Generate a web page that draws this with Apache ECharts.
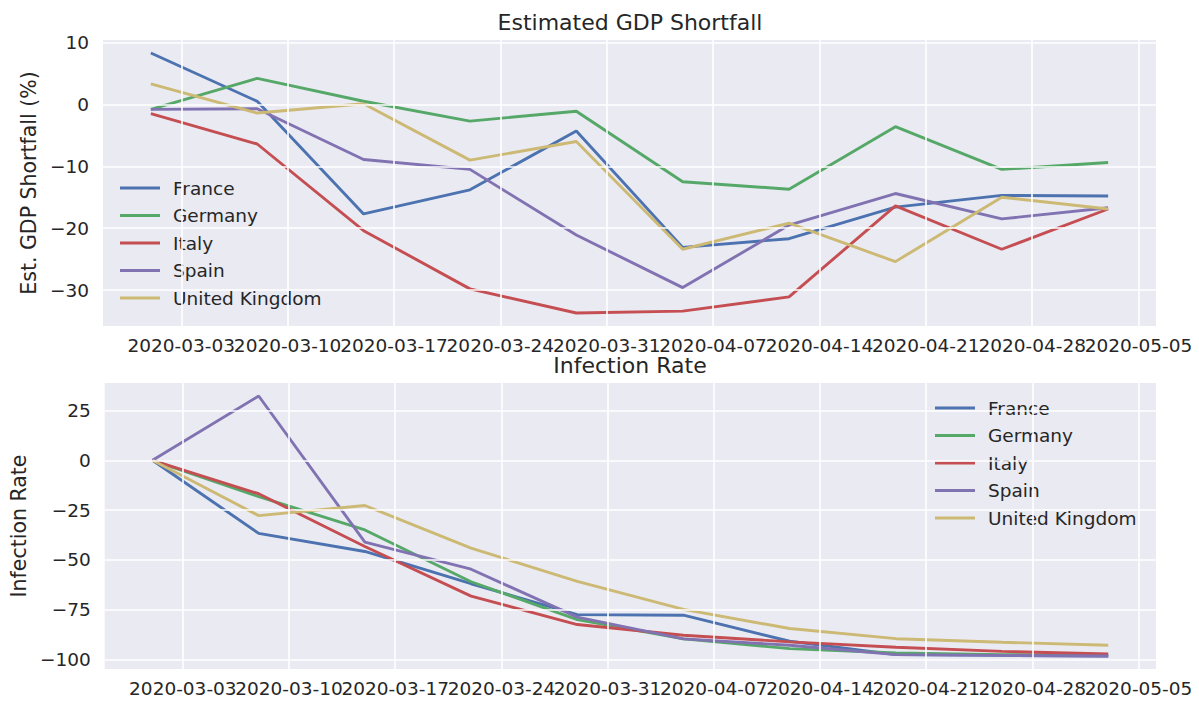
<!DOCTYPE html>
<html><head><meta charset="utf-8">
<script src="https://cdn.jsdelivr.net/npm/echarts@6/dist/echarts.min.js"></script>
<style>html,body{margin:0;padding:0;background:#fff}#c{width:1199px;height:702px}</style>
</head><body><div id="c"></div>
<script>
// ---- data ----
const dates = ['2020-03-01','2020-03-08','2020-03-15','2020-03-22','2020-03-29','2020-04-05','2020-04-12','2020-04-19','2020-04-26','2020-05-03'];
const countries = ['France','Germany','Italy','Spain','United Kingdom'];

const gdpFrance  = [8.3, 0.5, -17.7, -13.8, -4.3, -23.1, -21.7, -16.6, -14.7, -14.8];
const gdpGermany = [-0.8, 4.2, 0.5, -2.7, -1.1, -12.5, -13.7, -3.6, -10.5, -9.4];
const gdpItaly   = [-1.5, -6.4, -20.4, -29.8, -33.7, -33.4, -31.1, -16.4, -23.4, -16.9];
const gdpSpain   = [-0.8, -0.7, -8.9, -10.5, -21.1, -29.6, -19.5, -14.4, -18.5, -16.7];
const gdpUK      = [3.3, -1.4, 0.1, -9.0, -6.0, -23.4, -19.2, -25.4, -15.0, -16.9];

const infFrance  = [0, -36.7, -45.8, -62.0, -77.5, -77.8, -90.9, -97.6, -98.0, -98.3];
const infGermany = [0, -18.2, -35.0, -61.0, -80.0, -89.7, -94.6, -96.8, -97.6, -98.0];
const infItaly   = [0, -16.8, -43.3, -68.2, -82.5, -87.9, -91.2, -93.9, -96.0, -97.3];
const infSpain   = [0, 32.3, -41.1, -54.7, -78.8, -89.7, -92.9, -97.6, -98.0, -98.3];
const infUK      = [0, -27.8, -22.7, -44.1, -60.8, -74.9, -84.5, -89.6, -91.4, -92.9];

const xTickLabels = ['2020-03-03','2020-03-10','2020-03-17','2020-03-24','2020-03-31','2020-04-07','2020-04-14','2020-04-21','2020-04-28','2020-05-05'];
const gdpYTicks = [-30, -20, -10, 0, 10];
const infYTicks = [-100, -75, -50, -25, 0, 25];

// ---- build ----
const colors = ['#4C72B0','#55A868','#C44E52','#8172B2','#CCB974'];
const TXT = '#262626';
const FONT = 'DejaVu Sans';
const ts = s => { const [y,m,d] = s.split('-').map(Number); return Date.UTC(y, m-1, d); };
const fmt = v => { const d = new Date(v); const p = n => String(n).padStart(2,'0');
  return d.getUTCFullYear() + '-' + p(d.getUTCMonth()+1) + '-' + p(d.getUTCDate()); };
const minus = v => String(v).replace('-', '\u2212');
const xs = dates.map(ts);
const xTicks = xTickLabels.map(ts);
const xTicksA = xTicks.filter((_, i) => i % 2 === 0);
const xTicksB = xTicks.filter((_, i) => i % 2 === 1);
const xPad = (xs[xs.length-1] - xs[0]) * 0.05;
const xMin = xs[0] - xPad, xMax = xs[xs.length-1] + xPad;
function yRange(arrs){ const all = [].concat(...arrs); const lo = Math.min(...all), hi = Math.max(...all); const p = (hi-lo)*0.05; return [lo-p, hi+p]; }
const gdpSets = [gdpFrance, gdpGermany, gdpItaly, gdpSpain, gdpUK];
const infSets = [infFrance, infGermany, infItaly, infSpain, infUK];
const gR = yRange(gdpSets), iR = yRange(infSets);

const grids = [
  {left: 103, right: 43, top: 40, height: 286, show: true, backgroundColor: '#EAEAF2', borderWidth: 0},
  {left: 103, right: 43, top: 383, height: 286, show: true, backgroundColor: '#EAEAF2', borderWidth: 0}
];
// two overlaid x axes per grid (alternate labels) so the crowded date labels all stay visible
const mkX = (g, vals) => ({
  type: 'value', gridIndex: g, min: xMin, max: xMax, position: 'bottom', offset: 0,
  axisLine: {show: false}, axisTick: {show: false, customValues: vals}, splitLine: {show: false},
  axisLabel: {customValues: vals, formatter: fmt, color: TXT, fontFamily: FONT, fontSize: 18.5, margin: 10,
    hideOverlap: false, showMinLabel: true, showMaxLabel: true}
});
const xAxis = [mkX(0, xTicksA), mkX(1, xTicksA), mkX(0, xTicksB), mkX(1, xTicksB)];
const yAxis = [
  {type: 'value', gridIndex: 0, min: gR[0], max: gR[1], name: 'Est. GDP Shortfall (%)', nameLocation: 'middle', nameGap: 61,
   nameTextStyle: {color: TXT, fontFamily: FONT, fontSize: 20.5},
   axisLine: {show: false}, axisTick: {show: false, customValues: gdpYTicks}, splitLine: {show: false},
   axisLabel: {customValues: gdpYTicks, formatter: minus, color: TXT, fontFamily: FONT, fontSize: 18.5, margin: 14,
     showMinLabel: true, showMaxLabel: true}},
  {type: 'value', gridIndex: 1, min: iR[0], max: iR[1], name: 'Infection Rate', nameLocation: 'middle', nameGap: 74,
   nameTextStyle: {color: TXT, fontFamily: FONT, fontSize: 20.5},
   axisLine: {show: false}, axisTick: {show: false, customValues: infYTicks}, splitLine: {show: false},
   axisLabel: {customValues: infYTicks, formatter: minus, color: TXT, fontFamily: FONT, fontSize: 18.5, margin: 14,
     showMinLabel: true, showMaxLabel: true}}
];
const series = [];
[0,1].forEach(g => {
  const yt = g === 0 ? gdpYTicks : infYTicks;
  series.push({type: 'line', xAxisIndex: g, yAxisIndex: g, data: [], z: 1, silent: true,
    markLine: {silent: true, symbol: ['none','none'], animation: false, label: {show: false},
      emphasis: {disabled: true},
      lineStyle: {color: '#ffffff', width: 1.6, type: 'solid'},
      data: yt.map(v => ({yAxis: v})).concat(xTicks.map(t => ({xAxis: t})))}});
});
countries.forEach((c, k) => {
  series.push({name: c, type: 'line', xAxisIndex: 0, yAxisIndex: 0, z: 3, symbol: 'none', showSymbol: false,
    color: colors[k], lineStyle: {color: colors[k], width: 2.9}, data: xs.map((x, j) => [x, gdpSets[k][j]])});
  series.push({name: c, type: 'line', xAxisIndex: 1, yAxisIndex: 1, z: 3, symbol: 'none', showSymbol: false,
    color: colors[k], lineStyle: {color: colors[k], width: 2.9}, data: xs.map((x, j) => [x, infSets[k][j]])});
});
const legendBase = {orient: 'vertical', padding: 0, itemWidth: 40, itemHeight: 3, itemGap: 7.5, icon: 'rect',
  data: countries, selectedMode: false,
  textStyle: {color: TXT, fontFamily: FONT, fontSize: 18.5, lineHeight: 20, padding: [0,0,0,8]}};
const option = {
  animation: false,
  backgroundColor: '#ffffff',
  title: [
    {text: 'Estimated GDP Shortfall', left: 630, top: 10, textAlign: 'center', padding: 0,
     textStyle: {color: TXT, fontFamily: FONT, fontSize: 22, fontWeight: 'normal', lineHeight: 24}},
    {text: 'Infection Rate', left: 630, top: 353, textAlign: 'center', padding: 0,
     textStyle: {color: TXT, fontFamily: FONT, fontSize: 22, fontWeight: 'normal', lineHeight: 24}}
  ],
  legend: [Object.assign({left: 120, top: 178}, legendBase), Object.assign({left: 935, top: 398}, legendBase)],
  grid: grids, xAxis, yAxis, series
};
const chart = echarts.init(document.getElementById('c'), null, {renderer: 'svg'});
chart.setOption(option);
</script>
</body></html>
